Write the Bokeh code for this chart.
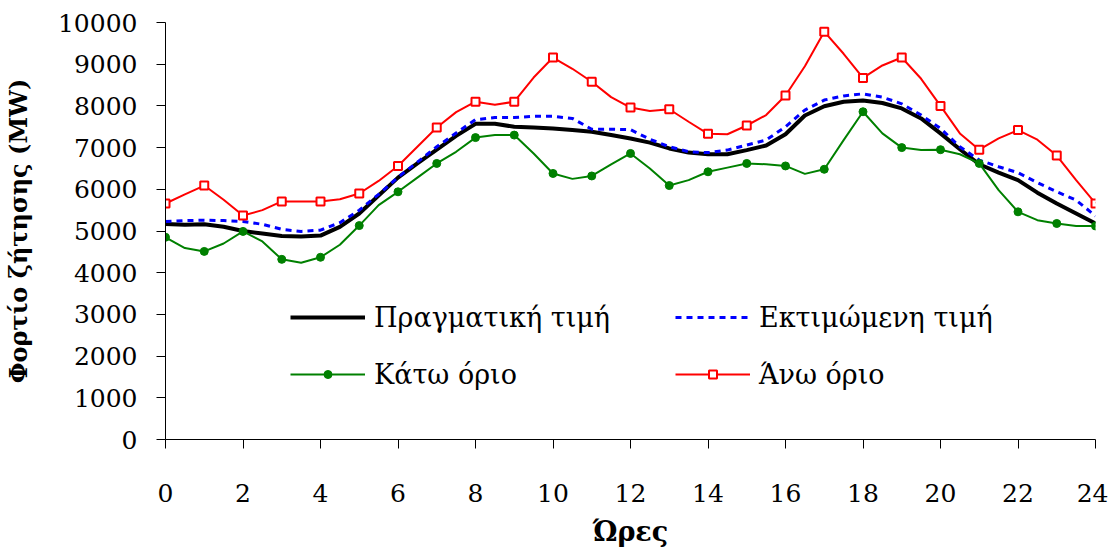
from bokeh.plotting import figure
from bokeh.models import Range1d, FixedTicker, Legend, LegendItem
from bokeh.embed import file_html
from bokeh.resources import INLINE

# Hours at half-hour resolution (markers at whole hours)
hours = [h / 2 for h in range(49)]

actual = [5170, 5150, 5160, 5100, 5000, 4940, 4880, 4870, 4890, 5100,
          5420, 5850, 6280, 6620, 6950, 7280, 7570, 7570, 7500, 7480,
          7460, 7420, 7380, 7300, 7220, 7120, 6980, 6880, 6840, 6840,
          6940, 7050, 7320, 7770, 7990, 8100, 8130, 8070, 7940, 7700,
          7340, 6960, 6600, 6400, 6220, 5920, 5660, 5420, 5180]

estimated = [5230, 5250, 5260, 5250, 5230, 5160, 5040, 4990, 5020, 5200,
             5500, 5880, 6290, 6650, 7020, 7350, 7670, 7720, 7720, 7750,
             7750, 7700, 7440, 7440, 7430, 7200, 7020, 6900, 6880, 6940,
             7060, 7180, 7500, 7900, 8140, 8240, 8290, 8210, 8050, 7780,
             7460, 7020, 6700, 6540, 6400, 6160, 5940, 5740, 5360]

lower = [4850, 4590, 4510, 4700, 4990, 4750, 4320, 4240, 4370, 4670,
         5130, 5620, 5940, 6280, 6620, 6900, 7240, 7300, 7300, 6860,
         6380, 6250, 6320, 6600, 6860, 6500, 6090, 6220, 6420, 6520,
         6620, 6600, 6560, 6370, 6480, 7180, 7860, 7340, 7000, 6940,
         6950, 6840, 6620, 5980, 5460, 5260, 5180, 5120, 5120]

upper = [5660, 5880, 6090, 5750, 5370, 5500, 5710, 5710, 5710, 5760,
         5900, 6200, 6560, 7020, 7480, 7850, 8100, 8030, 8100, 8680,
         9160, 8890, 8580, 8210, 7960, 7880, 7920, 7620, 7330, 7320,
         7530, 7780, 8250, 8950, 9780, 9250, 8670, 8970, 9160, 8650,
         8000, 7340, 6950, 7220, 7420, 7190, 6810, 6220, 5660]

labels = ["Πραγματική τιμή", "Εκτιμώμενη τιμή", "Κάτω όριο", "Άνω όριο"]
x_ticks = list(range(0, 25, 2))
y_ticks = list(range(0, 10001, 1000))

FONT = "DejaVu Serif"

p = figure(width=1108, height=549, output_backend="svg", toolbar_location=None,
           x_range=Range1d(0, 24), y_range=Range1d(0, 10000),
           min_border_left=163, min_border_right=13, min_border_top=22,
           min_border_bottom=109)
p.grid.visible = False
p.outline_line_color = None
p.background_fill_color = "white"
p.border_fill_color = "white"

l_act = p.line(hours, actual, line_color="black", line_width=4)
l_est = p.line(hours, estimated, line_color="#0000FF", line_width=3, line_dash="6 5")
l_low = p.line(hours, lower, line_color="#008000", line_width=2)
s_low = p.scatter(hours[::2], lower[::2], marker="circle", size=8,
                  fill_color="#008000", line_color="#008000")
l_up = p.line(hours, upper, line_color="#FF0000", line_width=2)
s_up = p.scatter(hours[::2], upper[::2], marker="square", size=8,
                 fill_color="white", line_color="#FF0000", line_width=2)

for ax in (p.xaxis, p.yaxis):
    ax.major_label_text_font = FONT
    ax.major_label_text_font_size = "25px"
    ax.major_label_text_color = "black"
    ax.axis_label_text_font = FONT
    ax.axis_label_text_font_style = "bold"
    ax.axis_label_text_color = "black"
    ax.axis_line_color = "black"
    ax.major_tick_line_color = "black"
    ax.major_tick_out = 9
    ax.major_tick_in = 0
    ax.minor_tick_line_color = None

p.xaxis.axis_label_text_font_size = "27px"
p.yaxis.axis_label_text_font_size = "24px"
p.xaxis.ticker = FixedTicker(ticks=x_ticks)
p.yaxis.ticker = FixedTicker(ticks=y_ticks)
p.xaxis.axis_label = "Ώρες"
p.yaxis.axis_label = "Φορτίο ζήτησης (MW)"
p.xaxis.major_label_standoff = 35
p.yaxis.major_label_standoff = 19
p.xaxis.axis_label_standoff = 11
p.yaxis.axis_label_standoff = 22


def make_legend(items, loc):
    lg = Legend(items=items, location=loc, orientation="horizontal",
                label_text_font=FONT, label_text_font_size="27px",
                label_text_color="black",
                glyph_width=75, glyph_height=20, label_height=40,
                label_width=301, label_standoff=9, spacing=0,
                padding=0, margin=0, border_line_color=None,
                background_fill_alpha=0)
    p.add_layout(lg, "center")


make_legend([LegendItem(label=labels[0], renderers=[l_act]),
             LegendItem(label=labels[1], renderers=[l_est])], (125, 102))
make_legend([LegendItem(label=labels[2], renderers=[l_low, s_low]),
             LegendItem(label=labels[3], renderers=[l_up, s_up])], (125, 45))

open("out.html", "w").write(file_html(p, INLINE))
